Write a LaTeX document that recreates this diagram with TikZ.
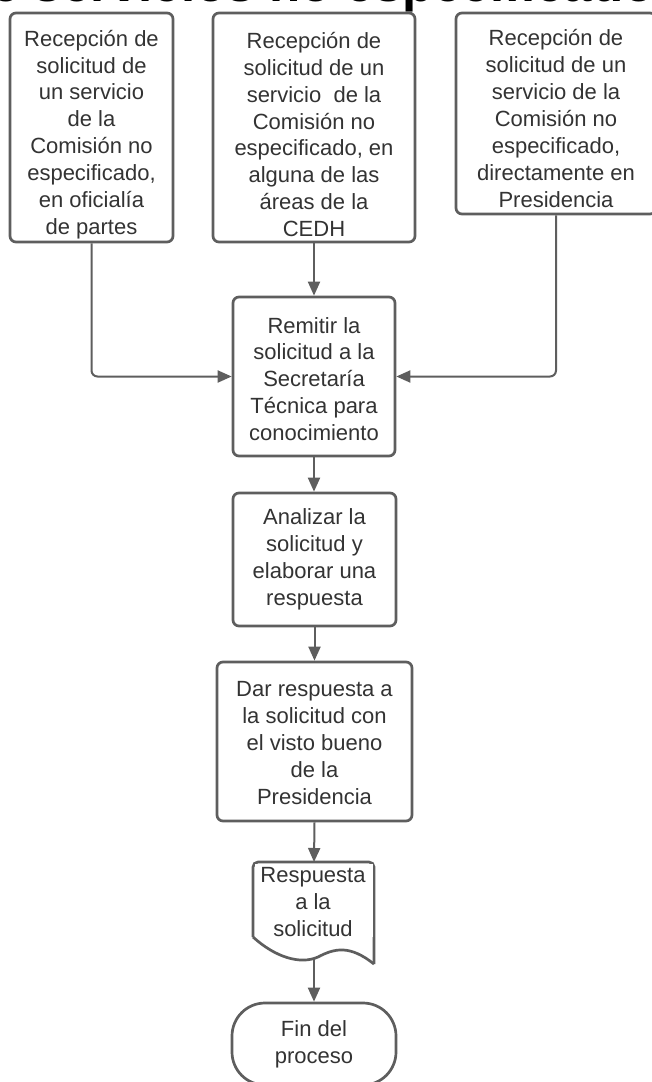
\documentclass[tikz,border=0pt]{standalone}
\usepackage{fontspec}
\setmainfont{Liberation Sans}
\usetikzlibrary{arrows.meta}
\definecolor{edge}{HTML}{5E5E5E}
\definecolor{txt}{HTML}{333333}
\begin{document}
\begin{tikzpicture}[x=1pt,y=-1pt,
  box/.style={draw=edge, line width=2.7pt, rounded corners=6pt, fill=white,
    text=txt, align=center, inner sep=0pt,
    font=\fontsize{22}{26.9}\selectfont},
  lbl/.style={text=txt, align=center, inner sep=0pt,
    font=\fontsize{22}{26.9}\selectfont},
  conn/.style={draw=edge, line width=2pt, -{Triangle[length=14pt,width=12pt]}},
]
\useasboundingbox (0,0) rectangle (652,1082);
\fill[white] (0,0) rectangle (652,1082);

% title (cut off at the top of the page, as in the reference)
\node[anchor=base west, inner sep=0pt, font=\fontsize{51}{51}\selectfont\bfseries] (title) at (-40,1) {de servicios no especificado};

\node[box, minimum width=163pt, minimum height=229pt] (b1) at (91.5,127.5) {};
\node[lbl] (b1t) at (91.5,134.5)
  {Recepción de\\solicitud de\\un servicio\\de la\\Comisión no\\especificado,\\en oficialía\\de partes};
\node[box, minimum width=202pt, minimum height=229pt] (b2) at (314,127.5) {};
\node[lbl] (b2t) at (314,134.5)
  {Recepción de\\solicitud de un\\servicio \ de la\\Comisión no\\especificado, en\\alguna de las\\áreas de la\\CEDH};
\node[box, minimum width=200pt, minimum height=201pt] (b3) at (556,113.5) {};
\node[lbl] (b3t) at (556,118.5)
  {Recepción de\\solicitud de un\\servicio de la\\Comisión no\\especificado,\\directamente en\\Presidencia};

\node[box, minimum width=162pt, minimum height=159pt] (rem) at (314,376.5) {};
\node[lbl] (remt) at (314,379)
  {Remitir la\\solicitud a la\\Secretaría\\Técnica para\\conocimiento};
\node[box, minimum width=163pt, minimum height=133pt] (ana) at (314.5,559.5)
  {Analizar la\\solicitud y\\elaborar una\\respuesta};
\node[box, minimum width=195pt, minimum height=159pt] (dar) at (314.5,741.5) {};
\node[lbl] (dart) at (314.5,743)
  {Dar respuesta a\\la solicitud con\\el visto bueno\\de la\\Presidencia};

% document shape
\draw[draw=edge, line width=2.7pt, fill=white, rounded corners=5pt]
  (253,937) -- (253,862) -- (374,862) -- (374,964);
\fill[white] (254.5,863.5) rectangle (372.5,937);
\draw[draw=edge, line width=2.7pt, line join=round]
  (253,937) .. controls (275,957) and (300,965) .. (318,957)
            .. controls (335,948) and (350,945) .. (374,964);
\node[lbl] (doc) at (313,902) {Respuesta\\a la\\solicitud};
\coordinate (docbot) at (314,959);
\coordinate (doctop) at (314,862);

\node[box, rounded corners=33pt, minimum width=164pt, minimum height=82pt] (fin) at (314,1044)
  {Fin del\\proceso};

% connectors
\draw[conn] (b2.south) -- (rem.north);
\draw[conn, rounded corners=6pt] (b1.south) |- (rem.west);
\draw[conn, rounded corners=6pt] (b3.south) |- (rem.east);
\draw[conn] (rem.south) -- (ana.north -| rem.south);
\draw[conn] (ana.south) -- (dar.north -| ana.south);
\draw[conn] (dar.south) -- (doctop);
\draw[conn] (docbot) -- (fin.north);
\end{tikzpicture}
\end{document}
